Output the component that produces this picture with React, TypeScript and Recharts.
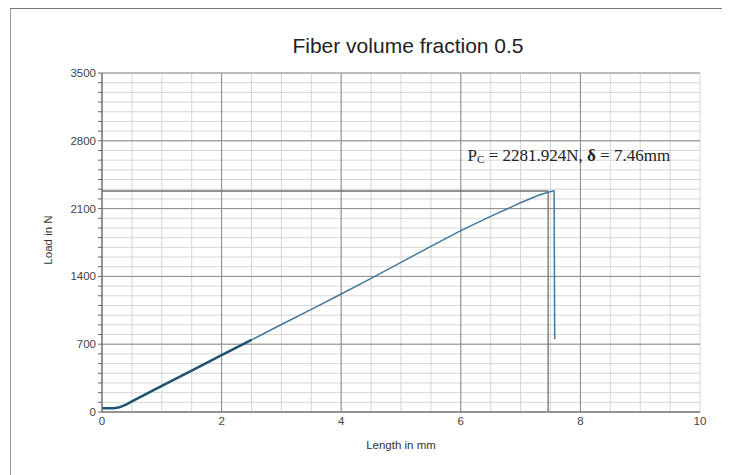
import {
  LineChart,
  Line,
  XAxis,
  YAxis,
  CartesianGrid,
  ReferenceLine,
  ReferenceDot,
} from "recharts";

const lengthMm = [
  0, 0.1, 0.2, 0.3, 0.4, 0.5, 1, 1.5, 2, 2.5, 3, 3.5, 4, 4.5, 5, 5.5, 6, 6.5,
  7, 7.3, 7.53, 7.56, 7.57,
];
const loadN = [
  38, 40, 40, 50, 75, 110, 270, 428, 588, 745, 903, 1060, 1218, 1380, 1545,
  1710, 1872, 2020, 2160, 2238, 2282, 2282, 750,
];

const xMinorTicks = [0, 0.5, 1, 1.5, 2, 2.5, 3, 3.5, 4, 4.5, 5, 5.5, 6, 6.5, 7, 7.5, 8, 8.5, 9, 9.5, 10];
const xMajorTicks = [0, 2, 4, 6, 8, 10];
const yMinorTicks = Array.from({ length: 36 }, (_, i) => i * 100);
const yMajorTicks = [0, 700, 1400, 2100, 2800, 3500];

const peakLoad = 2281.924;
const peakDisp = 7.46;

const chartData = lengthMm.map((x, i) => ({ x, load: loadN[i] }));

const FONT = "'Liberation Sans', Arial, sans-serif";

function YTick({ x, y, payload }: any) {
  if (!yMajorTicks.includes(payload.value)) return null;
  return (
    <text x={x} y={y} dy={4} textAnchor="end" fontSize={11.5} fill="#444" fontFamily={FONT}>
      {payload.value}
    </text>
  );
}

function XTick({ x, y, payload }: any) {
  if (!xMajorTicks.includes(payload.value)) return null;
  return (
    <text x={x} y={y} dy={13} textAnchor="middle" fontSize={11.5} fill="#444" fontFamily={FONT}>
      {payload.value}
    </text>
  );
}

function PeakNote({ viewBox }: any) {
  const { x, y } = viewBox;
  return (
    <text x={x} y={y} dy={6} fontFamily="'Liberation Serif', 'Times New Roman', serif" fontSize={17} fill="#222">
      P<tspan fontSize={11} dy={2}>C</tspan>
      <tspan dy={-2}> = 2281.924N, </tspan>
      <tspan fontWeight="bold">δ</tspan>
      <tspan> = 7.46mm</tspan>
    </text>
  );
}

export default function App() {
  return (
    <div style={{ position: "relative", width: 722, height: 467, background: "#fff" }}>
      {/* outer frame */}
      <div
        style={{
          position: "absolute",
          left: 2,
          top: 0,
          right: -8,
          bottom: -8,
          borderLeft: "1px solid #999",
          borderTop: "1.5px solid #777",
        }}
      />
      <div
        style={{
          position: "absolute",
          left: 0,
          top: 26,
          width: 800,
          textAlign: "center",
          fontFamily: FONT,
          fontSize: 21,
          color: "#222",
        }}
      >
        Fiber volume fraction 0.5
      </div>
      <div
        style={{
          position: "absolute",
          left: 0,
          top: 226,
          width: 80,
          textAlign: "center",
          transform: "rotate(-90deg)",
          transformOrigin: "center",
          fontFamily: FONT,
          fontSize: 11.5,
          color: "#333",
          whiteSpace: "nowrap",
        }}
      >
        Load in N
      </div>
      <div
        style={{
          position: "absolute",
          left: 293,
          top: 431,
          width: 200,
          textAlign: "center",
          fontFamily: FONT,
          fontSize: 11.5,
          color: "#333",
        }}
      >
        Length in mm
      </div>

      <LineChart
        width={722}
        height={467}
        data={chartData}
        margin={{ top: 65, right: 30, bottom: 33, left: 34 }}
        style={{ position: "absolute", left: 0, top: 0 }}
      >
        <CartesianGrid stroke="#d6d6d6" strokeWidth={1} />
        <XAxis
          dataKey="x"
          type="number"
          domain={[0, 10]}
          ticks={xMinorTicks}
          tick={<XTick />}
          tickLine={false}
          tickSize={0}
          tickMargin={0}
          height={30}
          axisLine={{ stroke: "#777", strokeWidth: 1.5 }}
          interval={0}
        />
        <YAxis
          type="number"
          domain={[0, 3500]}
          ticks={yMinorTicks}
          tick={<YTick />}
          tickLine={{ stroke: "#666" }}
          tickSize={4}
          tickMargin={2}
          width={60}
          interval={0}
          axisLine={{ stroke: "#777", strokeWidth: 1.5 }}
        />
        {yMajorTicks.slice(1).map((v) => (
          <ReferenceLine key={`hy${v}`} y={v} stroke="#8c8c8c" strokeWidth={1} />
        ))}
        {xMajorTicks.slice(1, -1).map((v) => (
          <ReferenceLine key={`vx${v}`} x={v} stroke="#8c8c8c" strokeWidth={1} />
        ))}
        <ReferenceLine
          segment={[
            { x: 0, y: peakLoad },
            { x: peakDisp, y: peakLoad },
          ]}
          stroke="#6e6e6e"
          strokeWidth={1.3}
        />
        <ReferenceLine
          segment={[
            { x: peakDisp, y: 0 },
            { x: peakDisp, y: peakLoad },
          ]}
          stroke="#6e6e6e"
          strokeWidth={1.3}
        />
        <Line
          type="linear"
          dataKey="load"
          stroke="#44789a"
          strokeWidth={1.5}
          dot={false}
          isAnimationActive={false}
        />
        <Line
          type="linear"
          dataKey={(d: any) => (d.x <= 2.5 ? d.load : null)}
          stroke="#1f5476"
          strokeWidth={2.5}
          dot={false}
          connectNulls={false}
          isAnimationActive={false}
        />
        <ReferenceDot
          x={6.13}
          y={2640}
          r={1}
          fill="none"
          stroke="none"
          label={<PeakNote />}
        />
      </LineChart>
    </div>
  );
}
